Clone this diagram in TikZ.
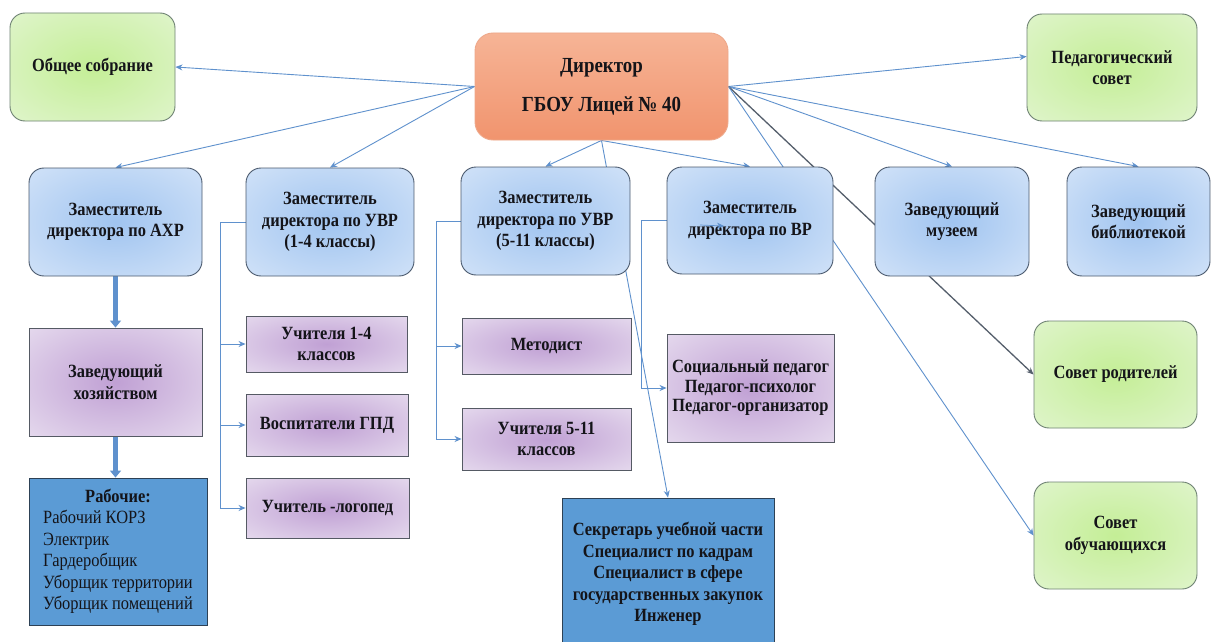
\documentclass[tikz,border=0pt]{standalone}
\usepackage{fontspec}
\setmainfont{Liberation Serif}[FakeStretch=0.88]
\usetikzlibrary{arrows.meta}
\pgfdeclarelayer{bg}
\pgfsetlayers{bg,main}
\definecolor{txt}{RGB}{20,20,25}
\definecolor{linkblue}{RGB}{95,145,205}
\definecolor{darkline}{RGB}{85,95,108}
\definecolor{greenin}{RGB}{196,238,150}
\definecolor{greenout}{RGB}{234,247,224}
\definecolor{greenline}{RGB}{110,130,115}
\definecolor{dirtop}{RGB}{246,180,150}
\definecolor{dirbot}{RGB}{241,148,110}
\definecolor{dirline}{RGB}{238,168,138}
\definecolor{bluein}{RGB}{160,196,240}
\definecolor{blueout}{RGB}{228,238,251}
\definecolor{blueline}{RGB}{75,90,110}
\definecolor{lilacin}{RGB}{192,160,212}
\definecolor{lilacout}{RGB}{243,239,247}
\definecolor{lilacline}{RGB}{85,90,100}
\definecolor{solid}{RGB}{91,155,213}
\definecolor{solidline}{RGB}{45,65,85}
\pgfdeclareradialshading{glowgreen}{\pgfpoint{0bp}{0bp}}{color(0bp)=(greenin); color(50bp)=(greenout)}
\pgfdeclareradialshading{glowblue}{\pgfpoint{0bp}{0bp}}{color(0bp)=(bluein); color(50bp)=(blueout)}
\pgfdeclareradialshading{glowlilac}{\pgfpoint{0bp}{0bp}}{color(0bp)=(lilacin); color(50bp)=(lilacout)}
\newcommand{\boxfont}{\fontsize{18.67}{21.5}\selectfont\bfseries}
\tikzset{
  box/.style={draw, inner sep=2pt, align=center, font=\boxfont, text=txt, line width=0.9pt},
  greenbox/.style={box, rounded corners=15pt, draw=greenline, shading=glowgreen},
  dirbox/.style={box, rounded corners=18pt, draw=dirline, top color=dirtop, bottom color=dirbot,
    font=\fontsize{21.5}{25}\selectfont\bfseries},
  bluebox/.style={box, rounded corners=15pt, draw=blueline, shading=glowblue},
  lilacbox/.style={box, draw=lilacline, shading=glowlilac},
  solidbox/.style={box, draw=solidline, fill=solid},
  link/.style={draw=linkblue, line width=0.9pt, -{Stealth[length=7pt,width=6pt]}},
  fatlink/.style={draw=linkblue, line width=4.5pt, -{Triangle[length=7pt,width=11pt]}}
}
\begin{document}
\begin{tikzpicture}[x=1pt,y=-1pt]
  % page
  \useasboundingbox (0,0) rectangle (1211,642);
  \clip (0,0) rectangle (1211,642);
  % director
  \node[dirbox, minimum width=253pt, minimum height=107pt] at (601.5,86.5) (dir) {Директор\\[14pt]ГБОУ Лицей № 40};
  % councils
  \node[greenbox, minimum width=165pt, minimum height=108pt] at (92.5,67) (obsh) {Общее собрание};
  \node[greenbox, minimum width=170pt, minimum height=107pt] at (1112,67.5) (pedsov) {Педагогический\\совет};
  \node[greenbox, minimum width=163pt, minimum height=107pt] at (1115.5,374.5) (sovrod) {Совет родителей};
  \node[greenbox, minimum width=163pt, minimum height=107pt] at (1115.5,535.5) (sovob) {Совет\\обучающихся};
  % deputies
  \node[bluebox, minimum width=173pt, minimum height=108pt] at (115.5,222) (ahr) {Заместитель\\директора по АХР};
  \node[bluebox, minimum width=168pt, minimum height=108pt] at (330,222) (uvrA) {Заместитель\\директора по УВР\\(1-4 классы)};
  \node[bluebox, minimum width=169pt, minimum height=108pt] at (545.5,221) (uvrB) {Заместитель\\директора по УВР\\(5-11 классы)};
  \node[bluebox, minimum width=166pt, minimum height=107pt] at (750,220.5) (vr) {Заместитель\\директора по ВР};
  \node[bluebox, minimum width=154pt, minimum height=109pt] at (952,221.5) (muz) {Заведующий\\музеем};
  \node[bluebox, minimum width=143pt, minimum height=109pt] at (1138.5,221.5) (bib) {Заведующий\\библиотекой};
  % staff
  \node[lilacbox, minimum width=173pt, minimum height=108pt] at (115.5,382) (hoz) {Заведующий\\хозяйством};
  \node[lilacbox, minimum width=161pt, minimum height=56pt] at (326.5,344) (uchA) {Учителя 1-4\\классов};
  \node[lilacbox, minimum width=162pt, minimum height=62pt] at (327,425) (vosp) {Воспитатели ГПД};
  \node[lilacbox, minimum width=163pt, minimum height=60pt] at (327.5,508) (logo) {Учитель -логопед};
  \node[lilacbox, minimum width=169pt, minimum height=56pt] at (546.5,346) (metod) {Методист};
  \node[lilacbox, minimum width=169pt, minimum height=62pt] at (546.5,439) (uchB) {Учителя 5-11\\классов};
  \node[lilacbox, minimum width=167pt, minimum height=108pt, font=\fontsize{18.67}{19.5}\selectfont\bfseries] at (750.5,388) (soc) {Социальный педагог\\Педагог-психолог\\Педагог-организатор};
  % workers
  \node[solidbox, minimum width=178pt, minimum height=147pt] at (118,551.5) (rab)
    {\mdseries\begin{tabular}{@{}l@{}}\multicolumn{1}{@{}c@{}}{\bfseries Рабочие:}\\Рабочий КОРЗ\\Электрик\\Гардеробщик\\Уборщик территории\\Уборщик помещений\end{tabular}};
  \node[solidbox, minimum width=212pt, minimum height=152pt] at (668,574) (sekr) {Секретарь учебной части\\Специалист по кадрам\\Специалист в сфере\\государственных закупок\\Инженер};
  % stray tick
  \coordinate (tickA) at (700,225);
  \coordinate (tickB) at (724,226);
  \draw[link, line width=0.7pt] (tickA) -- (tickB);
  \begin{pgfonlayer}{bg}
    \fill[white] (0,0) rectangle (1211,642);
    % from director
    \draw[link] (dir.west) -- (obsh.east);
    \draw[link] (dir.west) -- (ahr.north);
    \draw[link] (dir.west) -- (uvrA.north);
    \draw[link] (dir.south) -- (uvrB.north);
    \draw[link] (dir.south) -- (vr.north);
    \draw[link] (dir.south) -- (sekr.north);
    \draw[link] (dir.east) -- ([yshift=11pt]pedsov.west);
    \draw[link] (dir.east) -- (muz.north);
    \draw[link] (dir.east) -- (bib.north);
    \draw[link, draw=darkline, line width=1.3pt] (dir.east) -- (sovrod.west);
    \draw[link] (dir.east) -- (sovob.west);
    % branches
    \draw[link] (uvrA.west) -- ++(-25,0) |- (uchA.west);
    \draw[link] (uvrA.west) -- ++(-25,0) |- (vosp.west);
    \draw[link] (uvrA.west) -- ++(-25,0) |- (logo.west);
    \draw[link] (uvrB.west) -- ++(-24,0) |- (metod.west);
    \draw[link] (uvrB.west) -- ++(-24,0) |- (uchB.west);
    \draw[link] (vr.west) -- ++(-25,0) |- (soc.west);
    % household
    \draw[fatlink] (ahr.south) -- (hoz.north);
    \draw[fatlink] (hoz.south) -- (hoz.south |- rab.north);
  \end{pgfonlayer}
\end{tikzpicture}
\end{document}
